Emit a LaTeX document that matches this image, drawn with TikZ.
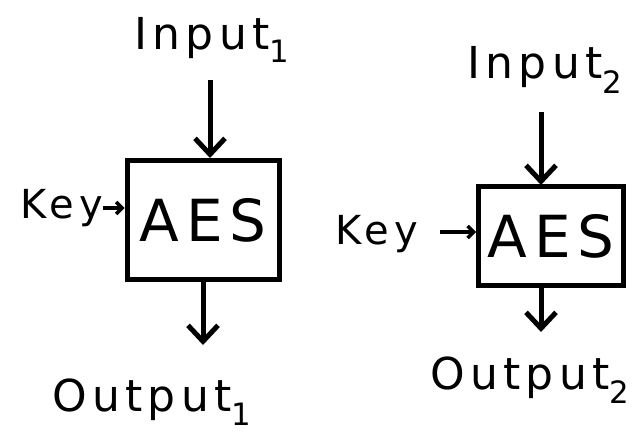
\documentclass[tikz,border=0pt]{standalone}
\usepackage{fontspec}
\setmainfont{DejaVu Sans}[LetterSpace=12]
\usetikzlibrary{arrows.meta}
\begin{document}
\begin{tikzpicture}[x=1pt,y=-1pt,
  lbl/.style={inner sep=0pt,font=\fontsize{44}{46}\selectfont},
  keylbl/.style={inner sep=0pt,font=\fontsize{40}{42}\selectfont},
  aesbox/.style={draw,line width=5pt,inner sep=0pt,font=\fontsize{58}{60}\selectfont},
  flow/.style={line width=5pt,-{Straight Barb[length=16pt,width=30pt,line width=5pt]}},
  keyarr/.style={line width=3.5pt,-{Straight Barb[length=6pt,width=12pt,line width=3.5pt]}}]
\useasboundingbox (0,0) rectangle (639,438);
% left
\node[lbl] (in1) at (212,40) {Input\textsubscript{1}};
\node[aesbox,minimum width=152pt,minimum height=118pt] (aes1) at (203,220) {AES};
\node[keylbl,anchor=east] (key1) at (103,208) {Key};
\node[lbl] (out1) at (152,402) {Output\textsubscript{1}};
\coordinate (o1) at (203,345);
\draw[flow] (210,80) -- (210,158);
\draw[keyarr] (key1.east) -- (aes1.west |- key1.east);
\draw[flow] (aes1.south) -- (o1);
% right
\node[lbl] (in2) at (545,70) {Input\textsubscript{2}};
\node[aesbox,minimum width=145pt,minimum height=98pt] (aes2) at (551,236) {AES};
\node[keylbl,anchor=east] (key2) at (418,234) {Key};
\node[lbl] (out2) at (530,380) {Output\textsubscript{2}};
\coordinate (o2) at (541,332);
\draw[flow] (541,112) -- (541,185);
\draw[keyarr] (440,232) -- (aes2.west |- 0,232);
\draw[flow] (541,285) -- (o2);
\end{tikzpicture}
\end{document}
